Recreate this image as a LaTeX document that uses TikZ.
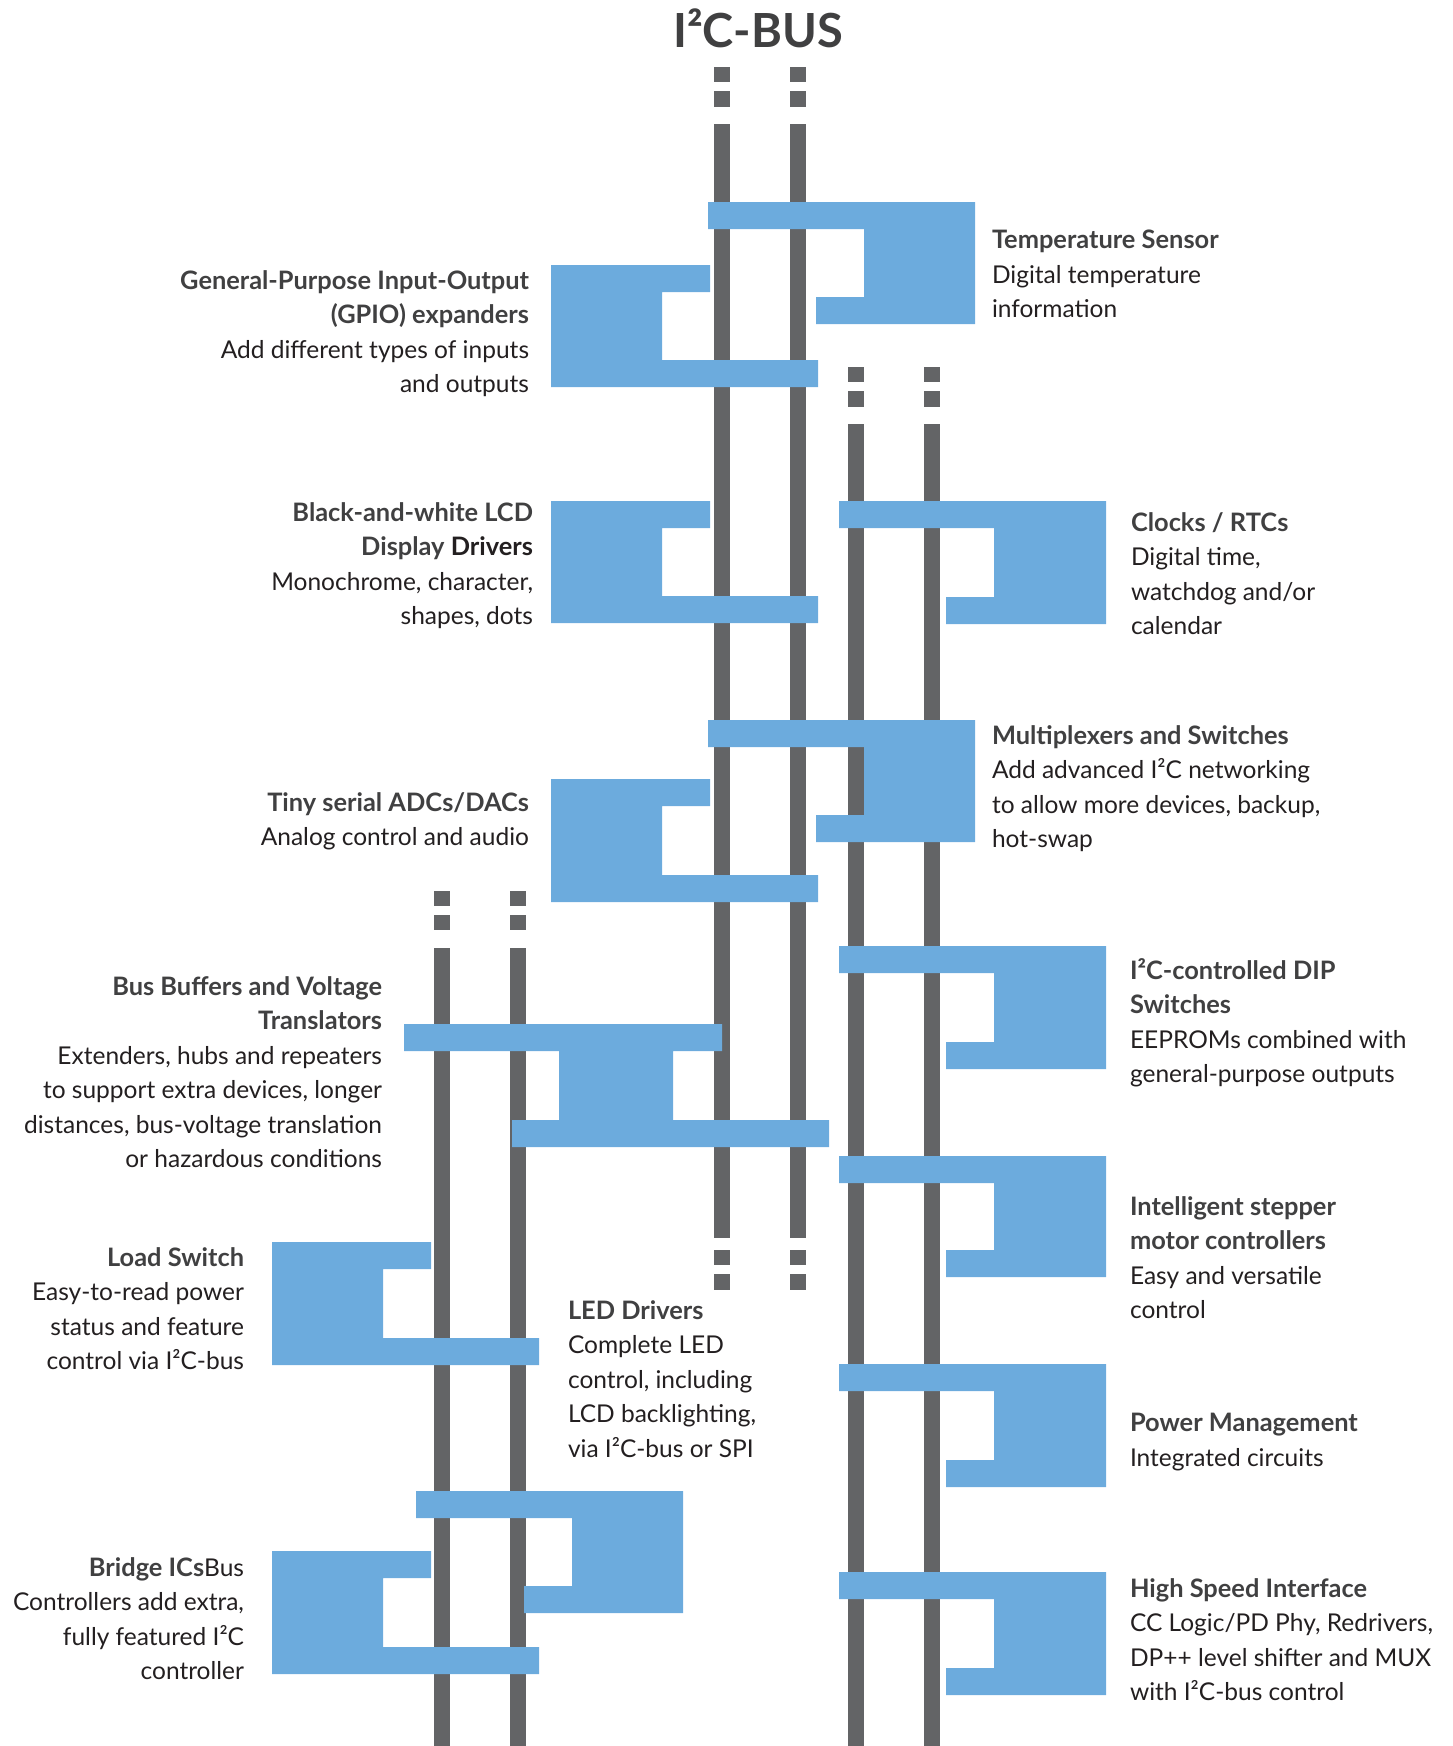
\documentclass[tikz,border=0pt]{standalone}
\usepackage{fontspec}
\setmainfont{Lato}
\usepackage{tikz}
\definecolor{busgray}{RGB}{99,100,102}
\definecolor{i2cblue}{RGB}{108,171,221}
\definecolor{headgray}{RGB}{64,64,65}
\definecolor{textblack}{RGB}{35,31,32}
\tikzstyle{bus} = [draw=busgray, line width=16pt]
\tikzstyle{module} = [fill=i2cblue]
\tikzstyle{txt} = [inner sep=0pt, outer sep=0pt, yshift=16.6pt, text=textblack,
font=\fontsize{24.5}{34.5}\selectfont, execute at begin node=\strut]
\tikzstyle{txtL} = [txt, anchor=north east, align=right]
\tikzstyle{txtR} = [txt, anchor=north west, align=left]
\newcommand{\hd}[1]{{\fontsize{25.4}{34.5}\selectfont\bfseries\color{headgray}#1}}

\begin{document}
\begin{tikzpicture}[x=1pt, y=-1pt]
	\useasboundingbox (0,0) rectangle (1452,1746);
	\node [font=\fontsize{47}{52}\selectfont\bfseries, text=headgray, anchor=base, inner sep=0pt] at (758,47) (title) {I²C-BUS};
	\draw [bus] (722,67) -- (722,82);
	\draw [bus] (722,91) -- (722,107);
	\draw [bus] (722,124) -- (722,1238);
	\draw [bus] (722,1250) -- (722,1265);
	\draw [bus] (722,1274) -- (722,1290);
	\draw [bus] (798,67) -- (798,82);
	\draw [bus] (798,91) -- (798,107);
	\draw [bus] (798,124) -- (798,1238);
	\draw [bus] (798,1250) -- (798,1265);
	\draw [bus] (798,1274) -- (798,1290);
	\draw [bus] (856,367) -- (856,382);
	\draw [bus] (856,391) -- (856,407);
	\draw [bus] (856,424) -- (856,1746);
	\draw [bus] (932,367) -- (932,382);
	\draw [bus] (932,391) -- (932,407);
	\draw [bus] (932,424) -- (932,1746);
	\draw [bus] (442,891) -- (442,906);
	\draw [bus] (442,915) -- (442,930);
	\draw [bus] (442,948) -- (442,1746);
	\draw [bus] (518,891) -- (518,906);
	\draw [bus] (518,915) -- (518,930);
	\draw [bus] (518,948) -- (518,1746);
	\fill [module] (708,202) -- (975,202) -- (975,324) -- (816,324) -- (816,297) -- (864,297) -- (864,229) -- (708,229) -- cycle;
	\fill [module] (551,265) -- (710,265) -- (710,292) -- (662,292) -- (662,360) -- (818,360) -- (818,387) -- (551,387) -- cycle;
	\fill [module] (551,501) -- (710,501) -- (710,528) -- (662,528) -- (662,596) -- (818,596) -- (818,623) -- (551,623) -- cycle;
	\fill [module] (839,501) -- (1106,501) -- (1106,624) -- (946,624) -- (946,597) -- (994,597) -- (994,528) -- (839,528) -- cycle;
	\fill [module] (708,720) -- (975,720) -- (975,842) -- (816,842) -- (816,815) -- (864,815) -- (864,747) -- (708,747) -- cycle;
	\fill [module] (551,779) -- (710,779) -- (710,806) -- (662,806) -- (662,875) -- (818,875) -- (818,902) -- (551,902) -- cycle;
	\fill [module] (839,946) -- (1106,946) -- (1106,1069) -- (946,1069) -- (946,1042) -- (994,1042) -- (994,973) -- (839,973) -- cycle;
	\fill [module] (404,1024) -- (722,1024) -- (722,1051) -- (673,1051) -- (673,1120) -- (829,1120) -- (829,1147) -- (512,1147) -- (512,1120) -- (559,1120) -- (559,1051) -- (404,1051) -- cycle;
	\fill [module] (839,1156) -- (1106,1156) -- (1106,1277) -- (946,1277) -- (946,1250) -- (994,1250) -- (994,1183) -- (839,1183) -- cycle;
	\fill [module] (272,1242) -- (431,1242) -- (431,1269) -- (383,1269) -- (383,1338) -- (539,1338) -- (539,1365) -- (272,1365) -- cycle;
	\fill [module] (839,1364) -- (1106,1364) -- (1106,1487) -- (946,1487) -- (946,1460) -- (994,1460) -- (994,1391) -- (839,1391) -- cycle;
	\fill [module] (416,1491) -- (683,1491) -- (683,1613) -- (524,1613) -- (524,1586) -- (572,1586) -- (572,1518) -- (416,1518) -- cycle;
	\fill [module] (272,1551) -- (431,1551) -- (431,1578) -- (383,1578) -- (383,1647) -- (539,1647) -- (539,1674) -- (272,1674) -- cycle;
	\fill [module] (839,1572) -- (1106,1572) -- (1106,1695) -- (946,1695) -- (946,1668) -- (994,1668) -- (994,1599) -- (839,1599) -- cycle;
	\node [txtR] at (992,247) (temp) {\hd{Temperature Sensor}\\Digital temperature\\information};
	\node [txtL] at (529,287) (gpio) {\hd{General-Purpose Input-Output}\\\hd{(GPIO) expanders}\\Add different types of inputs\\and outputs};
	\node [txtL] at (533,519) (lcd) {\hd{Black-and-white LCD}\\\hd{Display} {\fontsize{25.4}{34.5}\selectfont\bfseries Drivers}\\Monochrome, character,\\shapes, dots};
	\node [txtR] at (1131,529) (clocks) {\hd{Clocks / RTCs}\\Digital time,\\watchdog and/or\\calendar};
	\node [txtR] at (992,742) (mux) {\hd{Multiplexers and Switches}\\Add advanced I²C networking\\to allow more devices, backup,\\hot-swap};
	\node [txtL] at (529,809) (adc) {\hd{Tiny serial ADCs/DACs}\\Analog control and audio};
	\node [txtR] at (1130,975) (dip) {\hd{I²C-controlled DIP}\\\hd{Switches}\\EEPROMs combined with\\general-purpose outputs};
	\node [txtL] at (382,993) (buffers) {\hd{Bus Buffers and Voltage}\\\hd{Translators}\\Extenders, hubs and repeaters\\to support extra devices, longer\\distances, bus-voltage translation\\or hazardous conditions};
	\node [txtR] at (1130,1213) (stepper) {\hd{Intelligent stepper}\\\hd{motor controllers}\\Easy and versatile\\control};
	\node [txtL] at (244,1264) (loadsw) {\hd{Load Switch}\\Easy-to-read power\\status and feature\\control via I²C-bus};
	\node [txtR] at (568,1317) (led) {\hd{LED Drivers}\\Complete LED\\control, including\\LCD backlighting,\\via I²C-bus or SPI};
	\node [txtR] at (1130,1430) (power) {\hd{Power Management}\\Integrated circuits};
	\node [txtL] at (244,1574) (bridge) {\hd{Bridge ICs}Bus\\Controllers add extra,\\fully featured I²C\\controller};
	\node [txtR] at (1130,1595) (hsi) {\hd{High Speed Interface}\\CC Logic/PD Phy, Redrivers,\\DP++ level shifter and MUX\\with I²C-bus control};
\end{tikzpicture}
\end{document}
